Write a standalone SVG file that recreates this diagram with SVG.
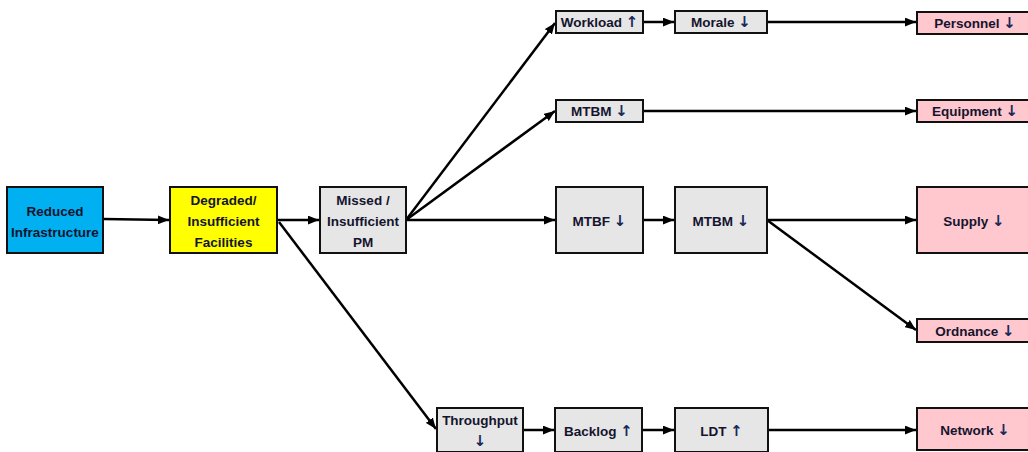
<svg xmlns="http://www.w3.org/2000/svg" width="1028" height="452" viewBox="0 0 1028 452">
<defs>
<marker id="ah" viewBox="0 0 10 8" refX="10" refY="4" markerWidth="11" markerHeight="9" markerUnits="userSpaceOnUse" orient="auto">
<path d="M0,0 L10,4 L0,8 Z" fill="#000"/>
</marker>
<style>
.box{stroke:#111;stroke-width:2}
.blue{fill:#00B0F0}
.yellow{fill:#FFFF00}
.gray{fill:#E6E6E6}
.pink{fill:#FFC7CE}
text{font-family:"Liberation Sans",Arial,"DejaVu Sans",sans-serif;font-weight:bold;font-size:13.5px;fill:#14142e;text-anchor:middle;dominant-baseline:central}
.ar{font-family:"DejaVu Sans",sans-serif;font-size:15px;fill:#1a2a5a}
.c{fill:none;stroke:#000;stroke-width:2.5;marker-end:url(#ah)}
</style>
</defs>
<rect width="1028" height="452" fill="#fff"/>
<g id="connectors">
<line class="c" x1="103" y1="219" x2="169" y2="220"/>
<line class="c" x1="277" y1="220" x2="319" y2="220"/>
<line class="c" x1="279" y1="222" x2="436" y2="429"/>
<line class="c" x1="406" y1="220" x2="555" y2="23"/>
<line class="c" x1="406" y1="220" x2="555" y2="111"/>
<line class="c" x1="406" y1="220" x2="555" y2="220"/>
<line class="c" x1="643" y1="22" x2="674" y2="22"/>
<line class="c" x1="767" y1="22" x2="916" y2="22"/>
<line class="c" x1="643" y1="111" x2="916" y2="111"/>
<line class="c" x1="643" y1="220" x2="674" y2="220"/>
<line class="c" x1="767" y1="220" x2="916" y2="220"/>
<line class="c" x1="767" y1="220" x2="916" y2="330"/>
<line class="c" x1="523" y1="430" x2="554" y2="430"/>
<line class="c" x1="642" y1="430" x2="674" y2="430"/>
<line class="c" x1="768" y1="430" x2="916" y2="430"/>
</g>
<g id="reduced"><rect class="box blue" x="7" y="187" width="96" height="66"/><text x="55" y="211">Reduced</text><text x="55" y="232">Infrastructure</text></g>
<g id="degraded"><rect class="box yellow" x="170" y="187" width="107" height="66"/><text x="223.5" y="200">Degraded/</text><text x="223.5" y="221">Insufficient</text><text x="223.5" y="242">Facilities</text></g>
<g id="missed"><rect class="box gray" x="320" y="187" width="86" height="66"/><text x="363" y="200">Missed /</text><text x="363" y="221">Insufficient</text><text x="363" y="242">PM</text></g>
<g id="workload"><rect class="box gray" x="556" y="11" width="87" height="22"/><text x="599.5" y="22">Workload <tspan class="ar">↑</tspan></text></g>
<g id="morale"><rect class="box gray" x="675" y="11" width="92" height="22"/><text x="721" y="22">Morale <tspan class="ar">↓</tspan></text></g>
<g id="mtbm1"><rect class="box gray" x="556" y="100" width="87" height="22"/><text x="599.5" y="111">MTBM <tspan class="ar">↓</tspan></text></g>
<g id="mtbf"><rect class="box gray" x="556" y="187" width="87" height="66"/><text x="599.5" y="221">MTBF <tspan class="ar">↓</tspan></text></g>
<g id="mtbm2"><rect class="box gray" x="675" y="187" width="92" height="66"/><text x="721" y="221">MTBM <tspan class="ar">↓</tspan></text></g>
<g id="throughput"><rect class="box gray" x="437" y="408" width="86" height="44"/><text x="480" y="420">Throughput</text><text x="480" y="441"><tspan class="ar">↓</tspan></text></g>
<g id="backlog"><rect class="box gray" x="555" y="408" width="87" height="44"/><text x="598.5" y="431">Backlog <tspan class="ar">↑</tspan></text></g>
<g id="ldt"><rect class="box gray" x="675" y="408" width="93" height="44"/><text x="721.5" y="431">LDT <tspan class="ar">↑</tspan></text></g>
<g id="personnel"><rect class="box pink" x="917" y="12" width="120" height="22"/><text x="975" y="23">Personnel <tspan class="ar">↓</tspan></text></g>
<g id="equipment"><rect class="box pink" x="917" y="100" width="120" height="22"/><text x="975" y="111">Equipment <tspan class="ar">↓</tspan></text></g>
<g id="supply"><rect class="box pink" x="917" y="187" width="120" height="66"/><text x="974" y="221">Supply <tspan class="ar">↓</tspan></text></g>
<g id="ordnance"><rect class="box pink" x="917" y="319" width="120" height="23"/><text x="975" y="331">Ordnance <tspan class="ar">↓</tspan></text></g>
<g id="network"><rect class="box pink" x="917" y="408" width="120" height="42"/><text x="975" y="430">Network <tspan class="ar">↓</tspan></text></g>
</svg>
